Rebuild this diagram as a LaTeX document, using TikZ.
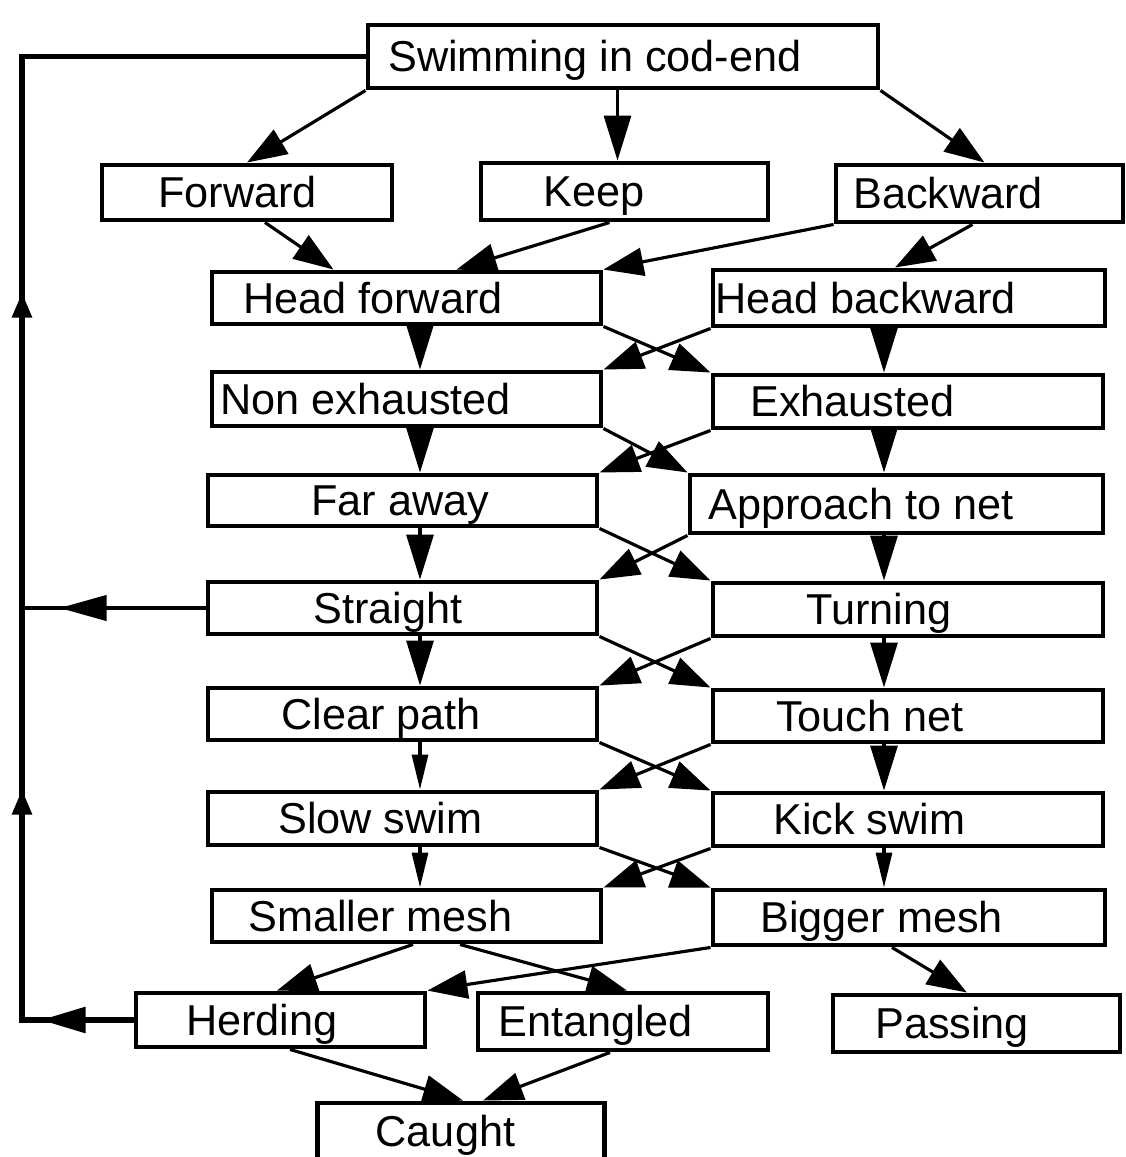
\documentclass[tikz,border=0pt]{standalone}
\usepackage{fontspec}
\setmainfont{Liberation Sans}
\usetikzlibrary{arrows.meta, decorations.markings, calc}

\begin{document}
\begin{tikzpicture}[
  stbox/.style={draw, line width=1.4pt, minimum width=#1, minimum height=5.3mm,
    inner sep=0pt},
  txt/.style={font=\fontsize{12.3}{14}\selectfont, inner sep=0pt,
    text height=3.05mm, text depth=0pt, anchor=west},
  arr/.style={-{Triangle[length=4mm, width=2.8mm]}, line width=0.9pt},
  arrv/.style={-{Triangle[length=4.5mm, width=2.7mm]}, line width=0.9pt},
  arrn/.style={-{Triangle[length=3.5mm, width=1.6mm]}, line width=0.9pt},
  fb/.style={line width=1.6pt},
]

\useasboundingbox (0,0) rectangle (11.25,-11.57);

% ---------------------------------------------
% Boxes
% ---------------------------------------------
\node[stbox=5.10cm, minimum height=6.3mm] (swim) at (6.23,-0.565) {};
\node[stbox=2.90cm, minimum height=5.5mm] (fwd)  at (2.47,-1.925) {};
\node[stbox=2.87cm, minimum height=5.7mm] (keep) at (6.245,-1.915) {};
\node[stbox=2.87cm, minimum height=5.7mm] (bwd)  at (9.795,-1.935) {};

\node[stbox=3.89cm, minimum height=5.2mm] (hf)    at (4.065,-2.98) {};
\node[stbox=3.92cm, minimum height=5.6mm] (hb)    at (9.09,-2.98) {};
\node[stbox=3.89cm, minimum height=5.4mm] (nex)   at (4.065,-3.99) {};
\node[stbox=3.90cm]                       (exh)   at (9.08,-4.015) {};
\node[stbox=3.89cm, minimum height=5.1mm] (far)   at (4.025,-5.005) {};
\node[stbox=4.13cm, minimum height=5.8mm] (appr)  at (8.965,-5.04) {};
\node[stbox=3.89cm, minimum height=5.2mm] (str)   at (4.025,-6.08) {};
\node[stbox=3.90cm]                       (turn)  at (9.08,-6.095) {};
\node[stbox=3.89cm, minimum height=5.2mm] (clr)   at (4.025,-7.14) {};
\node[stbox=3.90cm, minimum height=5.2mm] (touch) at (9.08,-7.16) {};
\node[stbox=3.89cm]                       (slow)  at (4.025,-8.185) {};
\node[stbox=3.90cm]                       (kick)  at (9.08,-8.195) {};
\node[stbox=3.89cm, minimum height=5.2mm] (small) at (4.065,-9.16) {};
\node[stbox=3.92cm, minimum height=5.5mm] (big)   at (9.09,-9.175) {};

\node[stbox=2.89cm, minimum height=5.4mm] (herd)   at (2.805,-10.2) {};
\node[stbox=2.90cm, minimum height=5.7mm] (ent)    at (6.23,-10.215) {};
\node[stbox=2.87cm, minimum height=5.7mm] (pass)   at (9.765,-10.235) {};
\node[stbox=2.87cm, minimum height=6.2mm] (caught) at (4.61,-11.34) {};

% ---------------------------------------------
% Labels
% ---------------------------------------------
\node[txt] (swim-t)   at ([xshift=0.22cm]swim.west)   {Swimming in cod-end};
\node[txt] (fwd-t)    at ([xshift=0.58cm]fwd.west)    {Forward};
\node[txt] (keep-t)   at ([xshift=0.64cm]keep.west)   {Keep};
\node[txt] (bwd-t)    at ([xshift=0.19cm]bwd.west)    {Backward};
\node[txt] (hf-t)     at ([xshift=0.33cm]hf.west)     {Head forward};
\node[txt] (hb-t)     at ([xshift=0.04cm]hb.west)     {Head backward};
\node[txt] (nex-t)    at ([xshift=0.10cm]nex.west)    {Non exhausted};
\node[txt] (exh-t)    at ([xshift=0.39cm]exh.west)    {Exhausted};
\node[txt] (far-t)    at ([xshift=1.05cm]far.west)    {Far away};
\node[txt] (appr-t)   at ([xshift=0.20cm]appr.west)   {Approach to net};
\node[txt] (str-t)    at ([xshift=1.07cm]str.west)    {Straight};
\node[txt] (turn-t)   at ([xshift=0.95cm]turn.west)   {Turning};
\node[txt] (clr-t)    at ([xshift=0.75cm]clr.west)    {Clear path};
\node[txt] (touch-t)  at ([xshift=0.65cm]touch.west)  {Touch net};
\node[txt] (slow-t)   at ([xshift=0.72cm]slow.west)   {Slow swim};
\node[txt] (kick-t)   at ([xshift=0.62cm]kick.west)   {Kick swim};
\node[txt] (small-t)  at ([xshift=0.38cm]small.west)  {Smaller mesh};
\node[txt] (big-t)    at ([xshift=0.49cm]big.west)    {Bigger mesh};
\node[txt] (herd-t)   at ([xshift=0.52cm]herd.west)   {Herding};
\node[txt] (ent-t)    at ([xshift=0.22cm]ent.west)    {Entangled};
\node[txt] (pass-t)   at ([xshift=0.44cm]pass.west)   {Passing};
\node[txt] (caught-t) at ([xshift=0.60cm]caught.north west) [yshift=-3.1mm] {Caught};

% ---------------------------------------------
% Top part
% ---------------------------------------------
\draw[arr] (swim.south west) -- (fwd.north);
\draw[arrv] ([xshift=-0.07cm]keep.north |- swim.south) -- ([xshift=-0.07cm]keep.north);
\draw[arr] (swim.south east) -- ([xshift=0.05cm]bwd.north);

\draw[arr] ([xshift=0.18cm]fwd.south) -- ([xshift=-0.73cm]hf.north);
\draw[arr] ([xshift=-0.15cm]keep.south) -- ([xshift=0.5cm]hf.north);
\draw[arr] (bwd.south west) -- (hf.north east);
\draw[arr] ([xshift=-0.07cm]bwd.south) -- ([xshift=-0.14cm]hb.north);

% ---------------------------------------------
% Two columns with crossing arrows
% ---------------------------------------------
\coordinate (lv) at (4.2,0);
\coordinate (rv) at (8.84,0);

\foreach \la/\ra/\lb/\rb/\ls/\rs in {hf/hb/nex/exh/arrv/arrv,
    nex/exh/far/appr/arrv/arrv, far/appr/str/turn/arrv/arrv,
    str/turn/clr/touch/arrv/arrv, clr/touch/slow/kick/arrn/arrv,
    slow/kick/small/big/arrn/arrn} {
  \draw[\ls] (\la.south -| lv) -- (\lb.north -| lv);
  \draw[\rs] (\ra.south -| rv) -- (\rb.north -| rv);
  \draw[arr] (\la.south east) -- (\rb.north west);
  \draw[arr] (\ra.south west) -- (\lb.north east);
}

% ---------------------------------------------
% Bottom part
% ---------------------------------------------
\draw[arr] ([xshift=0.065cm]small.south) -- ([xshift=-0.035cm]herd.north);
\draw[arr] ([xshift=0.535cm]small.south) -- ([xshift=0.04cm]ent.north);
\draw[arr] (big.south west) -- (herd.north east);
\draw[arr] ([xshift=-0.17cm]big.south) -- ([xshift=-0.095cm]pass.north);
\draw[arr] ([xshift=0.095cm]herd.south) -- ([xshift=0.02cm]caught.north);
\draw[arr] ([xshift=-0.13cm]ent.south) -- ([xshift=0.22cm]caught.north);

% ---------------------------------------------
% Feedback loop on the left
% ---------------------------------------------
\coordinate (fbx) at (0.22,0);
\draw[fb, postaction={decorate}, decoration={markings,
    mark=at position 0.93cm with {\arrow{Triangle[length=4.5mm, width=2.5mm]}},
    mark=at position 3.42cm with {\arrow{Triangle[length=2.5mm, width=1.9mm]}},
    mark=at position 8.39cm with {\arrow{Triangle[length=2.5mm, width=1.9mm]}}}]
  (herd.west) -- (herd.west -| fbx) -- (swim.west -| fbx) -- (swim.west);
\draw[line width=1.2pt, postaction={decorate}, decoration={markings,
    mark=at position 1.46cm with {\arrow{Triangle[length=4.7mm, width=2.5mm]}}}]
  (str.west) -- (str.west -| fbx);

\end{tikzpicture}
\end{document}
